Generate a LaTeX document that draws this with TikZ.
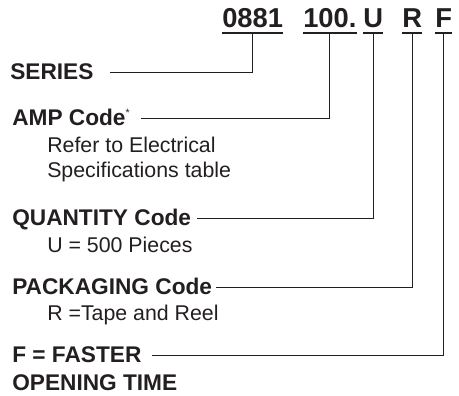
\documentclass[tikz,border=0pt]{standalone}
\usepackage{fontspec}
\setmainfont{Liberation Sans}
\usetikzlibrary{positioning}
\definecolor{partInk}{HTML}{231F20}

\begin{document}
\begin{tikzpicture}[
        x=0.75pt, y=-0.75pt,
        code/.style={font=\fontsize{20.5}{24}\selectfont\bfseries, text=partInk, anchor=base west, inner xsep=0pt, inner ysep=3.6pt, text depth=0pt},
        heading/.style={font=\fontsize{17}{20}\selectfont\bfseries, text=partInk, anchor=base west, inner sep=0pt, text height=10.5pt, text depth=0pt},
        detail/.style={font=\fontsize{16}{19}\selectfont, text=partInk, anchor=base west, inner sep=0pt},
        leader/.style={draw=partInk, line width=0.75pt},
        underline/.style={draw=partInk, line width=1.3pt}
    ]
    \useasboundingbox (0,0) rectangle (459,395);

    % part number
    \node[code] (c0881) at (222,28) {0881};
    \node[code] (c100) at (303,28) {100.};
    \node[code] (cU) at (363,28) {U};
    \node[code] (cR) at (402,28) {R};
    \node[code] (cF) at (435,28) {F};
    \foreach \c in {c0881,c100,cU,cR,cF}
        \draw[underline] (\c.south west) -- (\c.south east);

    % headings and their notes
    \node[heading] (series) at (10,80) {SERIES};
    \node[heading] (amp) at (12,126) {AMP Code\raisebox{7pt}{\fontsize{8}{8}\selectfont\mdseries *}};
    \node[detail] (ampref) at (47,152) {Refer to Electrical};
    \node[detail] (ampspec) at (47,177) {Specifications table};
    \node[heading] (quantity) at (12,225) {QUANTITY Code};
    \node[detail] (qtyval) at (47,252) {U = 500 Pieces};
    \node[heading] (packaging) at (12,294) {PACKAGING Code};
    \node[detail] (packval) at (47,320) {R =Tape and Reel};
    \node[heading] (faster) at (12,362) {F = FASTER};
    \node[heading] (opening) at (12,390) {OPENING TIME};

    \foreach \lab/\c/\gap in {series/c0881/12, amp/c100/8, quantity/cU/4, packaging/cR/3, faster/cF/7.5}
        \draw[leader] (\c.south) |- ([xshift=\gap]\lab.east);
\end{tikzpicture}
\end{document}
